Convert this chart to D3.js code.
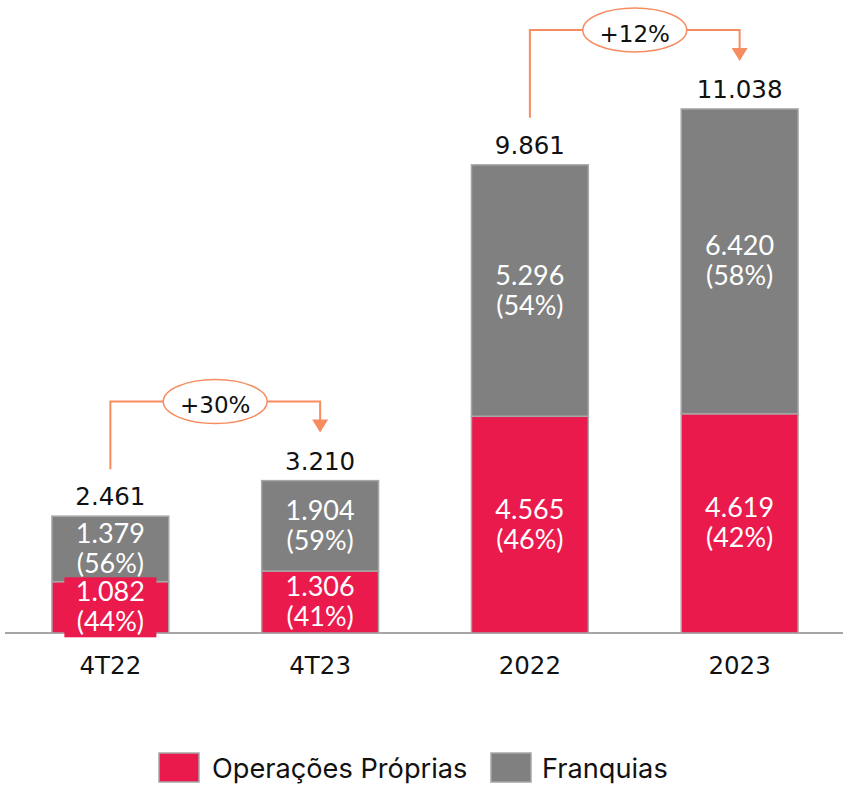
<!DOCTYPE html>
<html><head><meta charset="utf-8">
<script src="https://cdn.jsdelivr.net/npm/d3@7"></script>
<style>body{margin:0;background:#fff}svg{display:block}</style>
</head><body>
<svg id="c" width="843" height="787"></svg>
<script>
const categories = ["4T22","4T23","2022","2023"];
const proprias = [1082,1306,4565,4619];
const franquias = [1379,1904,5296,6420];
const totals = [2461,3210,9861,11038];
const pctProprias = ["(44%)","(41%)","(46%)","(42%)"];
const pctFranquias = ["(56%)","(59%)","(54%)","(58%)"];
const growth = [{from:0,to:1,label:"+30%"},{from:2,to:3,label:"+12%"}];
const seriesNames = ["Operações Próprias","Franquias"];

const RED="#EB1A4C", GRAY="#808080", EDGE="#A6A6A6", ORANGE="#F78C61";
const LATO="Lato, 'DejaVu Sans', sans-serif";
const DJ="'DejaVu Sans', sans-serif";
const INTER="Inter, 'Open Sans', sans-serif";
const svg=d3.select("#c");
const base=633;
const x=d3.scaleBand().domain(categories).range([10,840]).paddingInner(0.443).paddingOuter(0.2);
const y=d3.scaleLinear().domain([0,11038]).range([base,109]);
const fmt=v=>d3.format(",")(v).replace(/,/g,".");

svg.append("line").attr("x1",5).attr("x2",843).attr("y1",base).attr("y2",base)
  .attr("stroke",EDGE).attr("stroke-width",2);

const fs=27;
categories.forEach((c,i)=>{
  const x0=x(c), w=x.bandwidth(), cx=x0+w/2;
  const p=proprias[i], f=franquias[i];
  svg.append("rect").attr("x",x0).attr("y",y(p)).attr("width",w).attr("height",base-y(p))
    .attr("fill",RED).attr("stroke",EDGE).attr("stroke-width",1.5);
  svg.append("rect").attr("x",x0).attr("y",y(p+f)).attr("width",w).attr("height",y(p)-y(p+f))
    .attr("fill",GRAY).attr("stroke",EDGE).attr("stroke-width",1.5);
  const segLabel=(lo,hi,v,pct,bg)=>{
    const cy=(y(lo)+y(hi))/2;
    const g=svg.append("g");
    if(bg){
      g.append("rect").attr("x",cx-46).attr("y",cy-30).attr("width",92).attr("height",60).attr("fill",RED);
    }
    g.append("text").attr("x",cx).attr("y",cy-6).attr("text-anchor","middle")
      .attr("font-family",LATO).attr("font-size",fs).attr("fill","#fff").text(fmt(v));
    g.append("text").attr("x",cx).attr("y",cy+24).attr("text-anchor","middle")
      .attr("font-family",LATO).attr("font-size",fs).attr("fill","#fff").text(pct);
  };
  segLabel(0,p,p,pctProprias[i],(base-y(p))<60);
  segLabel(p,p+f,f,pctFranquias[i],false);
  svg.append("text").attr("x",cx).attr("y",y(totals[i])-11).attr("text-anchor","middle")
    .attr("font-family",DJ).attr("font-size",24.5).attr("fill","#111").text(fmt(totals[i]));
  svg.append("text").attr("x",cx).attr("y",674).attr("text-anchor","middle")
    .attr("font-family",DJ).attr("font-size",24.5).attr("fill","#111").text(c);
});

growth.forEach(g=>{
  const c0=categories[g.from], c1=categories[g.to];
  const xa=x(c0)+x.bandwidth()/2, xb=x(c1)+x.bandwidth()/2;
  const yStart=y(totals[g.from])-47, tip=y(totals[g.to])-48, hy=tip-31;
  svg.append("path").attr("d",`M${xa},${yStart}V${hy}H${xb}V${tip-12}`)
    .attr("fill","none").attr("stroke",ORANGE).attr("stroke-width",2);
  svg.append("path").attr("d",`M${xb-8},${tip-13}L${xb+8},${tip-13}L${xb},${tip}Z`).attr("fill",ORANGE);
  const ex=(xa+xb)/2;
  svg.append("ellipse").attr("cx",ex).attr("cy",hy).attr("rx",52).attr("ry",22)
    .attr("fill","#fff").attr("stroke",ORANGE).attr("stroke-width",1.5);
  svg.append("text").attr("x",ex).attr("y",hy+11.5).attr("text-anchor","middle")
    .attr("font-family",DJ).attr("font-size",23).attr("fill","#111").text(g.label);
});

const leg=[{name:seriesNames[0],color:RED,x:159,tx:212},{name:seriesNames[1],color:GRAY,x:491,tx:542}];
leg.forEach(l=>{
  svg.append("rect").attr("x",l.x).attr("y",753).attr("width",40).attr("height",29)
    .attr("fill",l.color).attr("stroke",EDGE).attr("stroke-width",1.5);
  svg.append("text").attr("x",l.tx).attr("y",778).attr("font-family",INTER).attr("font-size",27.2)
    .attr("fill","#111").text(l.name);
});
</script>
</body></html>
